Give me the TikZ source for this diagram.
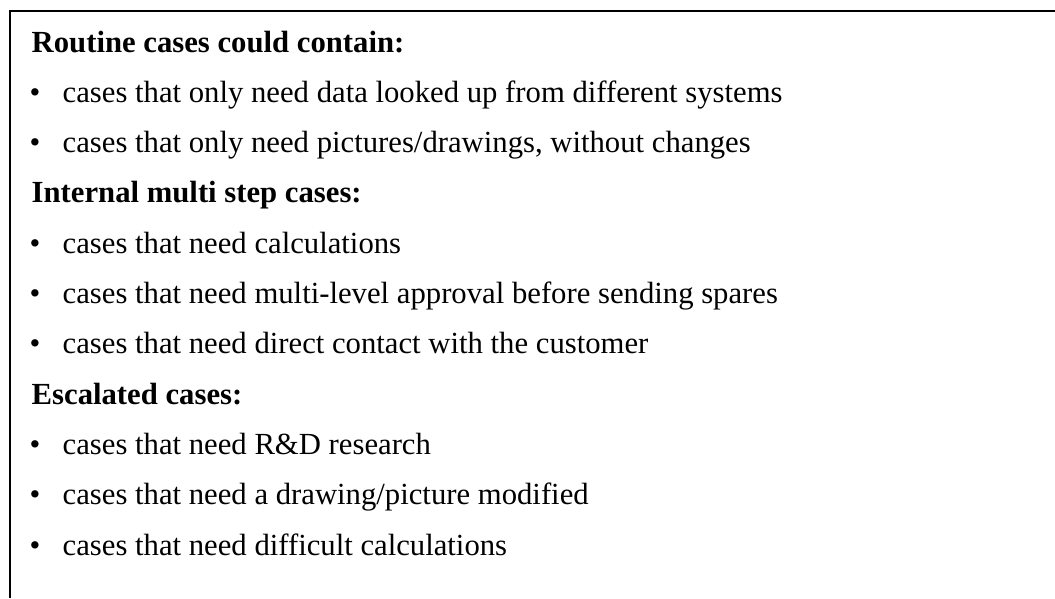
\documentclass[tikz,border=0pt]{standalone}
\usepackage{fontspec}
\setmainfont{Liberation Serif}
\begin{document}
\begin{tikzpicture}[x=1pt,y=1pt,
  every node/.style={inner sep=0pt,outer sep=0pt,font=\fontsize{30.7}{36}\selectfont},
  head/.style={anchor=base west,font=\fontsize{30.7}{36}\selectfont\bfseries},
  item/.style={anchor=base west},
  dot/.style={anchor=base}]
\useasboundingbox (0,0) rectangle (1055,-598);
\fill[white] (0,0) rectangle (1055,-598);
% open frame along the left and top edges
\draw[line width=2pt] (10,-598) -- (10,-11) -- (1055,-11);

\node[head] (h1) at (31.7,-52) {Routine cases could contain:};
\node[dot] (d1) at (35,-102.3) {•};
\node[item] (t1) at (62.7,-102.3) {cases that only need data looked up from different systems};
\node[dot] (d2) at (35,-152.6) {•};
\node[item] (t2) at (62.7,-152.6) {cases that only need pictures/drawings, without changes};

\node[head] (h2) at (31.7,-202.9) {Internal multi step cases:};
\node[dot] (d3) at (35,-253.2) {•};
\node[item] (t3) at (62.7,-253.2) {cases that need calculations};
\node[dot] (d4) at (35,-303.5) {•};
\node[item] (t4) at (62.7,-303.5) {cases that need multi-level approval before sending spares};
\node[dot] (d5) at (35,-353.8) {•};
\node[item] (t5) at (62.7,-353.8) {cases that need direct contact with the customer};

\node[head] (h3) at (31.7,-404.1) {Escalated cases:};
\node[dot] (d6) at (35,-454.4) {•};
\node[item] (t6) at (62.7,-454.4) {cases that need R\&D research};
\node[dot] (d7) at (35,-504.7) {•};
\node[item] (t7) at (62.7,-504.7) {cases that need a drawing/picture modified};
\node[dot] (d8) at (35,-555) {•};
\node[item] (t8) at (62.7,-555) {cases that need difficult calculations};
\end{tikzpicture}
\end{document}
